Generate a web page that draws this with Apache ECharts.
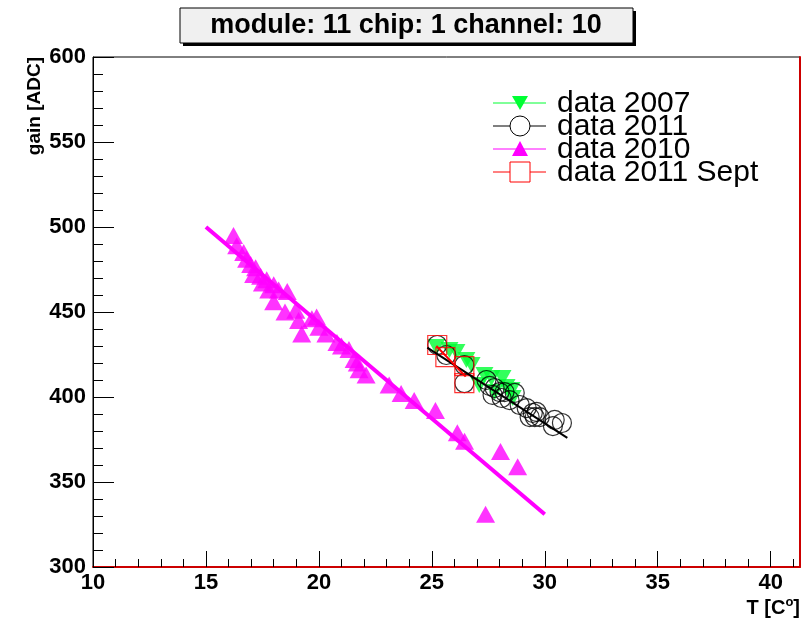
<!DOCTYPE html>
<html>
<head>
<meta charset="utf-8">
<script src="https://cdn.jsdelivr.net/npm/echarts@6/dist/echarts.min.js"></script>
<style>
  html, body { margin: 0; padding: 0; background: #fff; }
  #chart { width: 812px; height: 620px; }
</style>
</head>
<body>
<div id="chart"></div>
<script>
// Gain vs temperature, module 11 / chip 1 / channel 10
const titleText = 'module: 11 chip: 1 channel: 10';
const xTitle = 'T [C';
const yTitle = 'gain [ADC]';

const xMajorTicks = [10, 15, 20, 25, 30, 35, 40];
const xMinorTicks = [10, 11, 12, 13, 14, 15, 16, 17, 18, 19, 20, 21, 22, 23, 24, 25, 26, 27, 28, 29, 30, 31, 32, 33, 34, 35, 36, 37, 38, 39, 40, 41];

// data 2007
const x2007 = [25.2, 25.78, 26.09, 26.53, 26.76, 27.1, 27.33, 27.64, 27.78, 28.13, 28.31, 28.53, 28.58];
const y2007 = [429.4, 427.6, 426.5, 421.8, 418.8, 407.0, 412.9, 411.2, 402.9, 411.2, 405.9, 404.1, 399.4];

// data 2011
const x2011 = [25.24, 25.64, 26.44, 26.44, 27.42, 27.56, 27.78, 28.0, 27.69, 28.22, 28.67, 28.44, 28.09, 28.89, 29.2, 29.47, 29.56, 29.78, 29.64, 29.33, 30.44, 30.36, 30.76];
const y2011 = [430.6, 424.7, 418.8, 408.2, 410.0, 406.5, 405.3, 402.9, 401.2, 402.9, 402.4, 398.2, 399.4, 395.3, 393.5, 390.6, 388.2, 388.2, 391.2, 388.2, 386.5, 382.9, 384.7];

// data 2010
const x2010 = [16.22, 16.36, 16.67, 16.8, 16.98, 17.2, 17.11, 17.42, 17.5, 17.69, 18.0, 17.78, 18.22, 18.0, 18.5, 18.6, 18.98, 19.1, 19.69, 19.9, 19.24, 20.0, 20.31, 20.8, 21.0, 21.33, 21.56, 21.7, 21.78, 22.09, 23.11, 23.64, 24.22, 25.16, 26.13, 26.45, 28.04, 28.8, 27.38];
const y2010 = [495, 489, 485, 481, 478, 476, 472, 471, 467, 469, 466, 463, 463, 456, 450, 462, 451, 445, 446, 447, 437, 441, 437, 432, 430, 428, 422, 420, 416, 413, 407, 402, 398, 392, 379, 374, 368, 359, 331];

// data 2011 Sept
const xSept = [25.24, 25.6, 26.44, 26.44];
const ySept = [430.6, 423.5, 418.2, 408.2];

// straight-line fits (end points)
const fit2011X = [24.8, 31.0];
const fit2011Y = [429, 376];
const fit2010X = [15.0, 30.0];
const fit2010Y = [500, 331];
const fitSeptX = [25.2, 26.5];
const fitSeptY = [430, 412];

const legendNames = ['data 2007', 'data 2011', 'data 2010', 'data 2011 Sept'];

const FONT = '"Liberation Sans", Arial, Helvetica, sans-serif';
const pairs = (xs, ys) => xs.map((x, i) => [x, ys[i]]);

const chart = echarts.init(document.getElementById('chart'), null, { renderer: 'canvas' });

const legendY = [103, 126, 149, 172];
const legendGraphics = [];
const legendColors = ['#00ff33', '#000000', '#ff00ff', '#ff0000'];
legendNames.forEach((name, i) => {
  const y = legendY[i];
  legendGraphics.push({
    type: 'line', shape: { x1: 493, y1: y, x2: 546, y2: y },
    style: { stroke: legendColors[i], lineWidth: 1 }, z: 100
  });
  let marker;
  if (i === 0) {
    marker = { type: 'polygon', shape: { points: [[512, y - 7], [528, y - 7], [520, y + 7]] }, style: { fill: legendColors[i] } };
  } else if (i === 1) {
    marker = { type: 'circle', shape: { cx: 520, cy: y, r: 10 }, style: { fill: '#fff', stroke: '#000', lineWidth: 1 } };
  } else if (i === 2) {
    marker = { type: 'polygon', shape: { points: [[512, y + 7], [528, y + 7], [520, y - 8]] }, style: { fill: legendColors[i] } };
  } else {
    marker = { type: 'rect', shape: { x: 510, y: y - 10, width: 20, height: 20 }, style: { fill: '#fff', stroke: '#ff0000', lineWidth: 1 } };
  }
  marker.z = 101;
  legendGraphics.push(marker);
  legendGraphics.push({
    type: 'text', x: 557, y: y + 1, z: 102,
    style: { text: name, font: '30px ' + FONT, fill: '#000', align: 'left', verticalAlign: 'middle' }
  });
});

const option = {
  animation: false,
  backgroundColor: '#fff',
  grid: {
    left: 93, right: 12, top: 57, bottom: 53,
    show: true, borderColor: '#000', borderWidth: 1, backgroundColor: 'transparent'
  },
  xAxis: [
    {
      type: 'value', min: 10, max: 41.3, position: 'bottom',
      axisLine: { show: true, lineStyle: { color: '#cc0000', width: 2 } },
      axisTick: { show: true, inside: true, length: 8, customValues: xMinorTicks, lineStyle: { color: '#000' } },
      axisLabel: { show: true, customValues: xMajorTicks, margin: 5, color: '#000', fontFamily: FONT, fontWeight: 'bold', fontSize: 22 },
      splitLine: { show: false }
    },
    {
      type: 'value', min: 10, max: 41.3, position: 'bottom', gridIndex: 0,
      axisLine: { show: false },
      axisTick: { show: true, inside: true, length: 16, customValues: xMajorTicks, lineStyle: { color: '#000' } },
      axisLabel: { show: false },
      splitLine: { show: false }
    }
  ],
  yAxis: [
    {
      type: 'value', min: 300, max: 600, interval: 50, position: 'left',
      axisLine: { show: true, lineStyle: { color: '#000', width: 1 } },
      axisTick: { show: true, inside: true, length: 21, lineStyle: { color: '#000' } },
      minorTick: { show: true, splitNumber: 5, length: 10, lineStyle: { color: '#000' } },
      axisLabel: { margin: 7, color: '#000', fontFamily: FONT, fontWeight: 'bold', fontSize: 22 },
      splitLine: { show: false }
    },
    {
      type: 'value', min: 300, max: 600, position: 'right',
      axisLine: { show: true, lineStyle: { color: '#cc0000', width: 2 } },
      axisTick: { show: false }, axisLabel: { show: false }, splitLine: { show: false }
    }
  ],
  series: [
    {
      name: 'data 2007', type: 'scatter', data: pairs(x2007, y2007),
      symbol: 'triangle', symbolRotate: 180, symbolSize: [18, 16],
      itemStyle: { color: '#00ff33' }
    },
    {
      name: 'data 2011', type: 'scatter', data: pairs(x2011, y2011),
      symbol: 'circle', symbolSize: 19,
      itemStyle: { color: 'rgba(0,0,0,0)', borderColor: '#000', borderWidth: 1.2 }
    },
    {
      name: 'fit 2011', type: 'line', data: pairs(fit2011X, fit2011Y),
      showSymbol: false, lineStyle: { color: '#000', width: 2 }
    },
    {
      name: 'data 2010', type: 'scatter', data: pairs(x2010, y2010),
      symbol: 'triangle', symbolSize: [19, 17],
      itemStyle: { color: '#ff00ff' }
    },
    {
      name: 'fit 2010', type: 'line', data: pairs(fit2010X, fit2010Y),
      showSymbol: false, lineStyle: { color: '#ff00ff', width: 4 }
    },
    {
      name: 'data 2011 Sept', type: 'scatter', data: pairs(xSept, ySept),
      symbol: 'rect', symbolSize: 19,
      itemStyle: { color: 'rgba(0,0,0,0)', borderColor: '#ff0000', borderWidth: 1.2 }
    },
    {
      name: 'fit 2011 Sept', type: 'line', data: pairs(fitSeptX, fitSeptY),
      showSymbol: false, lineStyle: { color: '#ff0000', width: 2 }
    }
  ],
  graphic: [
    { type: 'rect', shape: { x: 183, y: 11, width: 453, height: 35 }, style: { fill: '#000' }, z: 100 },
    { type: 'rect', shape: { x: 180, y: 8, width: 453, height: 35 }, style: { fill: '#f0f0f0', stroke: '#000', lineWidth: 1 }, z: 101 },
    { type: 'text', x: 406, y: 26, z: 102,
      style: { text: titleText, font: 'bold 27px ' + FONT, fill: '#000', align: 'center', verticalAlign: 'middle' } },
    { type: 'text', x: 35, y: 57, rotation: Math.PI / 2, z: 100,
      style: { text: yTitle, font: 'bold 19px ' + FONT, fill: '#000', align: 'right', verticalAlign: 'middle' } },
    { type: 'text', x: 800, y: 607, z: 100,
      style: {
        text: '{a|' + xTitle + '}{s|o}{a|]}', align: 'right', verticalAlign: 'middle',
        rich: {
          a: { font: 'bold 20px ' + FONT, fill: '#000', verticalAlign: 'bottom' },
          s: { font: 'bold 13px ' + FONT, fill: '#000', verticalAlign: 'top', padding: [0, 0, 9, 0] }
        }
      } },
    ...legendGraphics
  ]
};

chart.setOption(option);
</script>
</body>
</html>
